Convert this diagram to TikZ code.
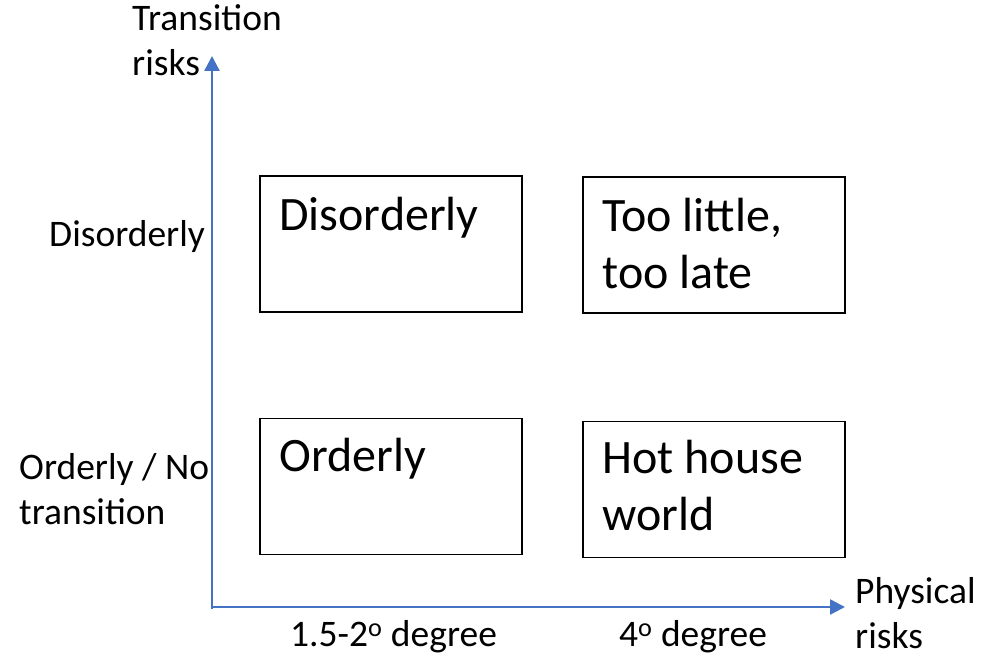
\documentclass[tikz,border=0pt]{standalone}
\usepackage{fontspec}
\setmainfont{Carlito}
\usetikzlibrary{arrows.meta}
\definecolor{axisblue}{RGB}{68,114,196}
\tikzset{
  axis/.style={axisblue,line width=2.5pt,-{Triangle[length=15pt,width=15pt]}},
  quad/.style={draw,line width=1.6pt,minimum width=262pt,minimum height=136pt,inner sep=0pt},
  quadtext/.style={anchor=base west,inner sep=0pt,align=left,font=\fontsize{48}{57}\selectfont},
  sidetext/.style={anchor=base west,inner sep=0pt,align=left,font=\fontsize{37.5}{45}\selectfont},
}
\begin{document}
\begin{tikzpicture}[x=1pt,y=-1pt]
    \useasboundingbox (0,0) rectangle (981,655);
    % axes
    \coordinate (origin) at (212,607);
    \coordinate (ytip) at (212,56);
    \coordinate (xtip) at (845,607);
    \draw[axis] ([yshift=-2pt]origin) -- (ytip);
    \draw[axis] (origin) -- (xtip);
    % (base of a two-line node is its last line)
    \node[sidetext] (ylab) at (132,76) {Transition\\risks};
    \node[sidetext] (xlab) at (855,648) {Physical\\risks};
    % row and column labels
    \node[sidetext] (rowdis) at (49,246) {Disorderly};
    \node[sidetext] (roword) at (19,524) {Orderly / No\\transition};
    \node[sidetext] (collow) at (290,646) {1.5-2\textsuperscript{o} degree};
    \node[sidetext] (colhigh) at (619,646) {4\textsuperscript{o} degree};
    % scenario boxes
    \node[quad] (dis) at (391,244) {};
    \node[quad] (late) at (714,245) {};
    \node[quad] (ord) at (391,486.5) {};
    \node[quad] (hot) at (714,489.5) {};
    \foreach \b/\dy/\t in {dis/55/Disorderly, late/112/{Too little,\\too late}, ord/54/Orderly, hot/110/{Hot house\\world}}{
        \node[quadtext] at ([shift={(20,\dy)}]\b.north west) {\t};
    }
\end{tikzpicture}
\end{document}
